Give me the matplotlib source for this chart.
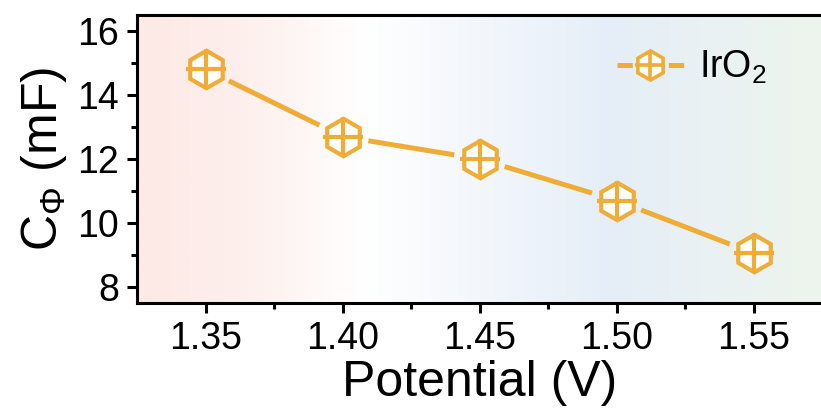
import numpy as np
import matplotlib
matplotlib.use("Agg")
import matplotlib.pyplot as plt
from matplotlib.colors import LinearSegmentedColormap
from matplotlib.lines import Line2D
from matplotlib.legend_handler import HandlerTuple

# Double-layer capacitance vs. applied potential
potential = [1.35, 1.40, 1.45, 1.50, 1.55]
capacitance = [14.8, 12.7, 12.0, 10.7, 9.05]
x_ticks = [1.35, 1.40, 1.45, 1.50, 1.55]
y_ticks = [8, 10, 12, 14, 16]
series_label = "IrO$_2$"

plt.rcParams['font.family'] = ['Liberation Sans', 'DejaVu Sans']
plt.rcParams['mathtext.fontset'] = 'custom'
plt.rcParams['mathtext.rm'] = 'Liberation Sans'
plt.rcParams['mathtext.it'] = 'Liberation Sans:italic'
plt.rcParams['lines.scale_dashes'] = False

color = '#EFAD38'
fig = plt.figure(figsize=(8.21, 4.16), dpi=100)
ax = fig.add_axes([0.1669, 0.2716, 0.835, 0.6923])

# Soft horizontal background gradient: rose -> white -> sky -> mint
cmap = LinearSegmentedColormap.from_list(
    'bg', [(0.0, '#FDE9E6'), (0.15, '#FDEFEC'), (0.33, '#FFFFFF'),
           (0.69, '#E5EEF8'), (1.0, '#EEF5ED')])
grad = np.linspace(0, 1, 256)[None, :]
ax.imshow(grad, extent=[0, 1, 0, 1], transform=ax.transAxes, cmap=cmap,
          aspect='auto', zorder=0)

ax.set_xlim(1.325, 1.575)
ax.set_ylim(7.5, 16.5)

# Connecting segments, trimmed short of each marker
pts = ax.transData.transform(np.column_stack([potential, capacitance]))
gap = 26
inv = ax.transData.inverted()
for p0, p1 in zip(pts[:-1], pts[1:]):
    d = p1 - p0
    u = d / np.hypot(*d)
    seg = inv.transform([p0 + u * gap, p1 - u * gap])
    ax.plot(seg[:, 0], seg[:, 1], color=color, lw=3.6,
            solid_capstyle='butt', zorder=2)

ax.plot(potential, capacitance, ls='none', marker='h', ms=27,
        mfc='white', mec=color, mew=3, zorder=3)
ax.plot(potential, capacitance, ls='none', marker='+', ms=29,
        mec=color, mew=3, zorder=4)

# Legend handle: short dashes on both sides of the marker
h_line = Line2D([], [], color=color, lw=3.6, dashes=(11, 26, 11, 200),
                dash_capstyle='butt')
h_hex = Line2D([], [], ls='none', marker='h', ms=21, mfc='white',
               mec=color, mew=2.6)
h_plus = Line2D([], [], ls='none', marker='+', ms=22, mec=color, mew=2.6)
ax.legend([(h_line, h_hex, h_plus)], [series_label],
          handler_map={tuple: HandlerTuple(ndivide=1)},
          loc='upper right', bbox_to_anchor=(0.968, 1.0), frameon=False,
          fontsize=27, handlelength=1.8, handletextpad=0.4,
          borderaxespad=0.5)

ax.set_xticks(x_ticks)
ax.set_xticklabels([f"{v:.2f}" for v in x_ticks])
ax.set_yticks(y_ticks)
ax.set_xticks([1.375, 1.425, 1.475, 1.525], minor=True)
ax.set_yticks([9, 11, 13, 15], minor=True)

for s in ['left', 'bottom', 'top']:
    ax.spines[s].set_linewidth(2.2)
ax.spines['right'].set_visible(False)
ax.tick_params(which='major', direction='out', length=7, width=2.2,
               labelsize=27, pad=6)
ax.tick_params(which='minor', direction='out', length=4, width=2.2)
ax.tick_params(top=False, right=False, which='both')

ax.set_xlabel('Potential (V)', fontsize=36, labelpad=2)
ax.set_ylabel(r'C$_\Phi$ (mF)', fontsize=36, labelpad=6)

fig.savefig('out.png', dpi=100)
